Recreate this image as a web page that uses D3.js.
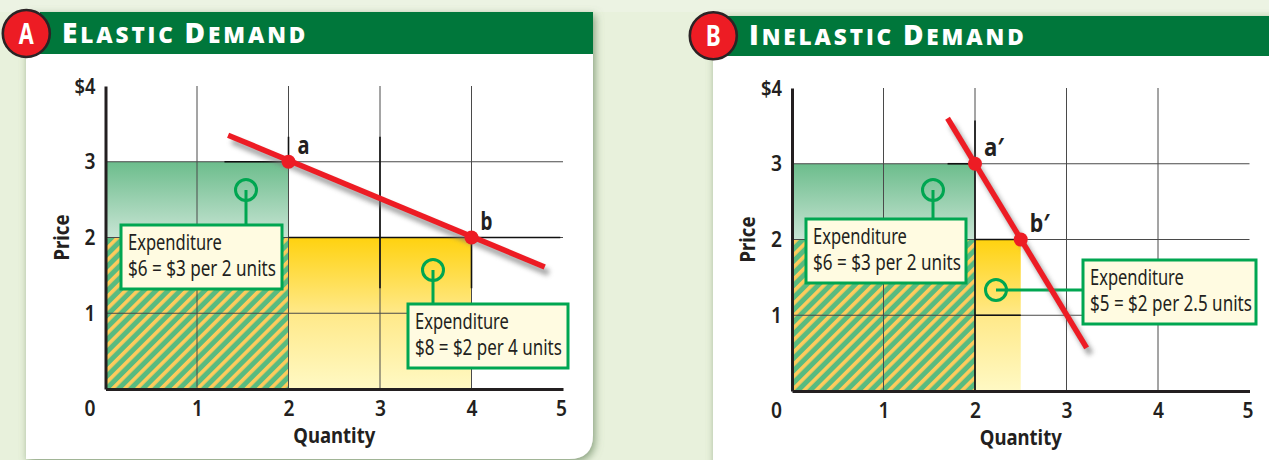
<!DOCTYPE html>
<html>
<head>
<meta charset="utf-8">
<script src="https://cdn.jsdelivr.net/npm/d3@7"></script>
<style>
  html, body { margin: 0; padding: 0; background: #e8f1dc; }
  svg { display: block; }
  text { font-family: "Noto Sans", sans-serif; fill: #231f20; }
  .tick-label { font-size: 22px; font-weight: 600; }
  .axis-title { font-size: 22px; font-weight: bold; }
  .point-label { font-size: 25px; font-weight: bold; }
  .callout-text { font-size: 22px; }
  .head { font-family: "Open Sans", sans-serif; font-weight: 800; fill: #fff; letter-spacing: 2.9px; }
</style>
</head>
<body>
<svg id="chart" width="1269" height="460"></svg>
<script>
// values
const quantityTicks = [0, 1, 2, 3, 4, 5];
const priceTicks = [1, 2, 3, 4];

const demandA = [[1.34, 3.35], [4.80, 1.61]];
const demandB = [[1.70, 3.60], [3.22, 0.57]];
const pointsA = [{ q: 2, p: 3, label: "a" }, { q: 4, p: 2, label: "b" }];
const pointsB = [{ q: 2, p: 3, label: "a′" }, { q: 2.5, p: 2, label: "b′" }];

// darker stretches of the grid, [q1, p1, q2, p2]
const darkGridA = [[2, 3, 2, 3.33], [3, 1.33, 3, 3.33], [4, 2, 4, 1.33], [1.3, 3, 2, 3], [4, 2, 4.97, 2], [2, 2, 4, 2]];
const darkGridB = [[2, 0, 2, 3.57], [1.7, 3, 2, 3], [2, 1, 2.5, 1], [2, 2, 2.5, 2]];

const svg = d3.select("#chart");
const defs = svg.append("defs");

let grad = defs.append("linearGradient").attr("id", "greenFill").attr("x1", 0).attr("y1", 0).attr("x2", 0).attr("y2", 1);
grad.append("stop").attr("offset", 0).attr("stop-color", "#6cbd8c");
grad.append("stop").attr("offset", 1).attr("stop-color", "#c8e4d4");
grad = defs.append("linearGradient").attr("id", "yellowFill").attr("x1", 0).attr("y1", 0).attr("x2", 0).attr("y2", 1);
grad.append("stop").attr("offset", 0).attr("stop-color", "#ffd20f");
grad.append("stop").attr("offset", 0.5).attr("stop-color", "#ffe989");
grad.append("stop").attr("offset", 1).attr("stop-color", "#fff9c4");

const hatch = defs.append("pattern").attr("id", "hatch").attr("width", 8.6).attr("height", 8.6)
  .attr("patternUnits", "userSpaceOnUse").attr("patternTransform", "rotate(45)");
hatch.append("rect").attr("width", 8.6).attr("height", 8.6).attr("fill", "#58bb80");
hatch.append("rect").attr("width", 3.6).attr("height", 8.6).attr("fill", "#ffcb5c");

let f = defs.append("filter").attr("id", "cardShadow").attr("x", "-5%").attr("y", "-5%").attr("width", "110%").attr("height", "110%");
f.append("feDropShadow").attr("dx", 2).attr("dy", 3).attr("stdDeviation", 4.5).attr("flood-color", "#75906a").attr("flood-opacity", 0.85);
f = defs.append("filter").attr("id", "lineShadow").attr("x", "-20%").attr("y", "-20%").attr("width", "140%").attr("height", "140%");
f.append("feGaussianBlur").attr("stdDeviation", 2.5);

// lighter strip along the top of the page
svg.append("rect").attr("width", 1269).attr("height", 12).attr("fill", "#ecf3e3");

// the source type is condensed, so squeeze each string to its measured width
function fit(sel, width) {
  return sel.attr("textLength", width).attr("lengthAdjust", "spacingAndGlyphs");
}

// same squeeze done with a scale, for text inside the callout boxes
function squeeze(sel, width) {
  const k = width / sel.node().getComputedTextLength();
  const x0 = +sel.attr("x");
  return sel.attr("transform", `translate(${x0 * (1 - k)},0) scale(${k},1)`);
}

function drawPanel(cfg) {
  const x = d3.scaleLinear().domain([0, 5]).range([cfg.x0, cfg.x0 + 457.5]);
  const y = d3.scaleLinear().domain([0, 4]).range([cfg.y0, cfg.y0 - 303]);
  const g = svg.append("g");

  // card + header
  g.append("path")
    .attr("d", `M${cfg.cardX},${cfg.headTop} H${cfg.cardR} V${cfg.cardB - 24} Q${cfg.cardR},${cfg.cardB} ${cfg.cardR - 24},${cfg.cardB} H${cfg.cardX} Z`)
    .attr("fill", "#fff").attr("filter", "url(#cardShadow)");
  g.append("rect").attr("x", cfg.cardX + 14).attr("y", cfg.headTop).attr("width", cfg.cardR - cfg.cardX - 14).attr("height", cfg.headH).attr("fill", "#00773b");

  const title = g.append("text").attr("class", "head").attr("x", cfg.cardX + 36).attr("y", cfg.titleY);
  cfg.title.forEach(([big, small]) => {
    title.append("tspan").attr("font-size", 28).text(big);
    title.append("tspan").attr("font-size", 22.5).text(small);
  });

  g.append("circle").attr("cx", cfg.cardX + 0.3).attr("cy", cfg.badgeY).attr("r", 23.5)
    .attr("fill", "#ed1c24").attr("stroke", "#2b2325").attr("stroke-width", 2.6);
  fit(g.append("text").attr("x", cfg.cardX + 0.3).attr("y", cfg.badgeY + 10).attr("text-anchor", "middle")
    .attr("font-size", 28).attr("font-weight", "bold").style("fill", "#fff").text(cfg.letter), 15);

  // expenditure areas
  const rectOf = (q1, q2, p1, p2, fill) => g.append("rect")
    .attr("x", x(q1)).attr("width", x(q2) - x(q1))
    .attr("y", y(p2)).attr("height", y(p1) - y(p2)).attr("fill", fill);
  rectOf(0, cfg.spendB[0], 0, cfg.spendB[1], "url(#yellowFill)");
  rectOf(0, cfg.spendA[0], cfg.spendB[1], cfg.spendA[1], "url(#greenFill)");
  rectOf(0, cfg.spendA[0], 0, cfg.spendB[1], "url(#hatch)");

  // grid
  g.append("g").selectAll("line").data(quantityTicks.slice(1, 5)).join("line")
    .attr("x1", d => x(d)).attr("x2", d => x(d)).attr("y1", y(0)).attr("y2", y(4))
    .attr("stroke", "#4a4a4a").attr("stroke-width", 1);
  g.append("g").selectAll("line").data(priceTicks.slice(0, 3)).join("line")
    .attr("x1", x(0)).attr("x2", x(5)).attr("y1", d => y(d)).attr("y2", d => y(d))
    .attr("stroke", "#4a4a4a").attr("stroke-width", 1);
  g.append("g").selectAll("line").data(cfg.darkGrid).join("line")
    .attr("x1", d => x(d[0])).attr("y1", d => y(d[1])).attr("x2", d => x(d[2])).attr("y2", d => y(d[3]))
    .attr("stroke", "#111").attr("stroke-width", 1.6);

  // axes
  const xAxis = g.append("g").attr("transform", `translate(0,${y(0)})`)
    .call(d3.axisBottom(x).tickValues(quantityTicks).tickSize(0).tickPadding(11).tickFormat(d3.format("d")));
  const yAxis = g.append("g").attr("transform", `translate(${x(0)},0)`)
    .call(d3.axisLeft(y).tickValues(priceTicks).tickSize(0).tickPadding(10).tickFormat(d => d === 4 ? "$4" : d));
  [xAxis, yAxis].forEach(a => {
    a.select(".domain").attr("stroke", "#231f20").attr("stroke-width", 3);
    a.attr("font-size", null).attr("font-family", null);
    a.selectAll("text").attr("class", "tick-label")
      .attr("textLength", function() { return this.textContent.length > 1 ? 21 : 11; })
      .attr("lengthAdjust", "spacingAndGlyphs");
  });
  xAxis.selectAll(".tick").filter(d => d === 0).select("text").attr("dx", -16);
  xAxis.selectAll(".tick").filter(d => d === 5).select("text").attr("dx", -2);

  fit(g.append("text").attr("class", "axis-title").attr("text-anchor", "middle")
    .attr("x", x(2.5)).attr("y", y(0) + 54).text("Quantity"), 82);
  fit(g.append("text").attr("class", "axis-title").attr("text-anchor", "middle")
    .attr("transform", `translate(${x(0) - 37},${y(2)}) rotate(-90)`).text("Price"), 46);

  // callouts
  cfg.callouts.forEach(c => {
    g.append("line").attr("x1", c.cx).attr("y1", c.cy).attr("x2", c.sx).attr("y2", c.sy)
      .attr("stroke", "#00a651").attr("stroke-width", 3);
    g.append("circle").attr("cx", c.cx).attr("cy", c.cy).attr("r", 10.5)
      .attr("fill", c.circleFill).attr("stroke", "#00a651").attr("stroke-width", 3);
    g.append("rect").attr("x", c.x).attr("y", c.y).attr("width", c.w).attr("height", 64)
      .attr("fill", "#fffbe1").attr("stroke", "#00a651").attr("stroke-width", 3);
    squeeze(g.append("text").attr("class", "callout-text").attr("x", c.x + 7).attr("y", c.y + 25).text("Expenditure"), 94);
    squeeze(g.append("text").attr("class", "callout-text").attr("x", c.x + 7).attr("y", c.y + 51).text(c.text), c.textW);
  });

  // demand curve
  const line = d3.line().x(d => x(d[0])).y(d => y(d[1]));
  g.append("path").attr("d", line(cfg.demand)).attr("transform", "translate(4,6)")
    .attr("stroke", "#777").attr("stroke-width", 6).attr("fill", "none").attr("opacity", 0.7).attr("filter", "url(#lineShadow)");
  g.append("path").attr("d", line(cfg.demand)).attr("stroke", "#ed1c24").attr("stroke-width", 5.5).attr("fill", "none");
  g.append("g").selectAll("circle").data(cfg.points).join("circle")
    .attr("cx", d => x(d.q)).attr("cy", d => y(d.p)).attr("r", 7).attr("fill", "#ed1c24");
  g.append("g").selectAll("text").data(cfg.points).join("text")
    .attr("class", "point-label").attr("x", d => x(d.q) + 9).attr("y", d => y(d.p) - 8)
    .attr("textLength", d => d.label.length > 1 ? 20 : 12).attr("lengthAdjust", "spacingAndGlyphs")
    .text(d => d.label);
}

drawPanel({
  letter: "A", title: [["E", "LASTIC "], ["D", "EMAND"]],
  x0: 105.5, y0: 389, cardX: 26, cardR: 593, cardB: 459, headTop: 12, headH: 42, titleY: 43, badgeY: 33.5,
  spendA: [2, 3], spendB: [4, 2], demand: demandA, points: pointsA, darkGrid: darkGridA,
  callouts: [
    { x: 121, y: 225, w: 161, cx: 246, cy: 190, sx: 246, sy: 225, circleFill: "none", text: "$6 = $3 per 2 units", textW: 148 },
    { x: 408, y: 304, w: 160, cx: 433, cy: 270, sx: 433, sy: 304, circleFill: "none", text: "$8 = $2 per 4 units", textW: 147 }
  ]
});

drawPanel({
  letter: "B", title: [["I", "NELASTIC "], ["D", "EMAND"]],
  x0: 792, y0: 391, cardX: 713, cardR: 1290, cardB: 480, headTop: 16, headH: 40, titleY: 45, badgeY: 35.7,
  spendA: [2, 3], spendB: [2.5, 2], demand: demandB, points: pointsB, darkGrid: darkGridB,
  callouts: [
    { x: 806, y: 219, w: 160, cx: 933, cy: 190, sx: 933, sy: 219, circleFill: "none", text: "$6 = $3 per 2 units", textW: 148 },
    { x: 1083, y: 260, w: 173, cx: 996, cy: 290, sx: 1083, sy: 290, circleFill: "none", text: "$5 = $2 per 2.5 units", textW: 162 }
  ]
});
</script>
</body>
</html>
